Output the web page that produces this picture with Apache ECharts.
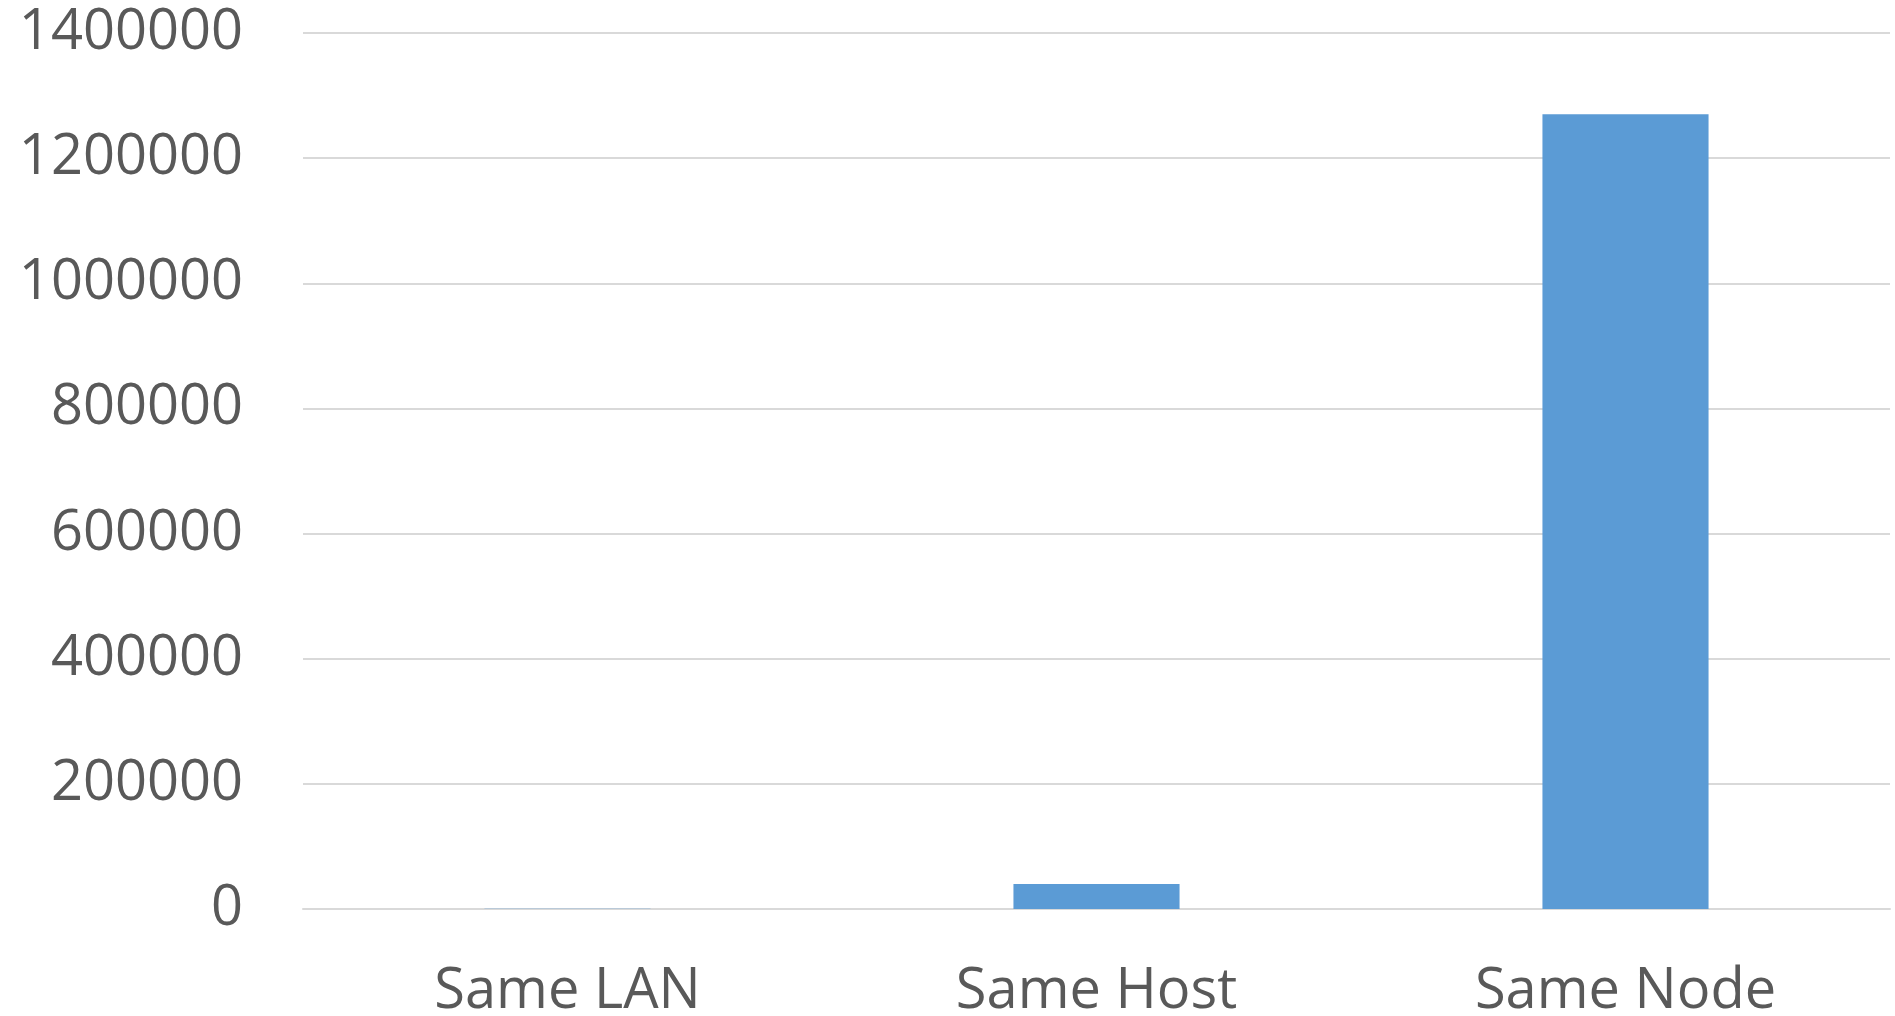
<!DOCTYPE html>
<html>
<head>
<meta charset="utf-8">
<title>Throughput by placement</title>
<script src="https://cdn.jsdelivr.net/npm/echarts@6/dist/echarts.min.js"></script>
<style>
  html, body { margin: 0; padding: 0; background: #ffffff; }
  #chart { width: 1895px; height: 1016px; }
</style>
</head>
<body>
<div id="chart"></div>
<script>
// Placement categories along the x axis
const categories = ['Same LAN', 'Same Host', 'Same Node'];
// Measured value for each placement
const values = [200, 40000, 1270000];
// Value axis range and step
const yMin = 0;
const yMax = 1400000;
const yStep = 200000;

const textColor = '#595959';
const fontFamily = '"Open Sans", "Noto Sans", sans-serif';

const chart = echarts.init(document.getElementById('chart'), null, { renderer: 'canvas' });
chart.setOption({
  backgroundColor: '#ffffff',
  animation: false,
  grid: { left: 303, right: 5, top: 33, bottom: 107, containLabel: false, outerBoundsMode: 'none' },
  xAxis: {
    type: 'category',
    data: categories,
    axisLine: { show: true, lineStyle: { color: '#d9d9d9', width: 2 } },
    axisTick: { show: false },
    axisLabel: {
      color: textColor,
      fontFamily: fontFamily,
      fontSize: 56,
      margin: 55
    },
    splitLine: { show: false }
  },
  yAxis: {
    type: 'value',
    min: yMin,
    max: yMax,
    interval: yStep,
    axisLine: { show: false },
    axisTick: { show: false },
    axisLabel: {
      color: textColor,
      fontFamily: fontFamily,
      fontSize: 56,
      margin: 60,
      formatter: (v) => String(v)
    },
    splitLine: { show: true, lineStyle: { color: '#d9d9d9', width: 2 } }
  },
  series: [{
    type: 'bar',
    data: values,
    barWidth: '31.4%',
    itemStyle: { color: '#5b9bd5' }
  }]
});
</script>
</body>
</html>
